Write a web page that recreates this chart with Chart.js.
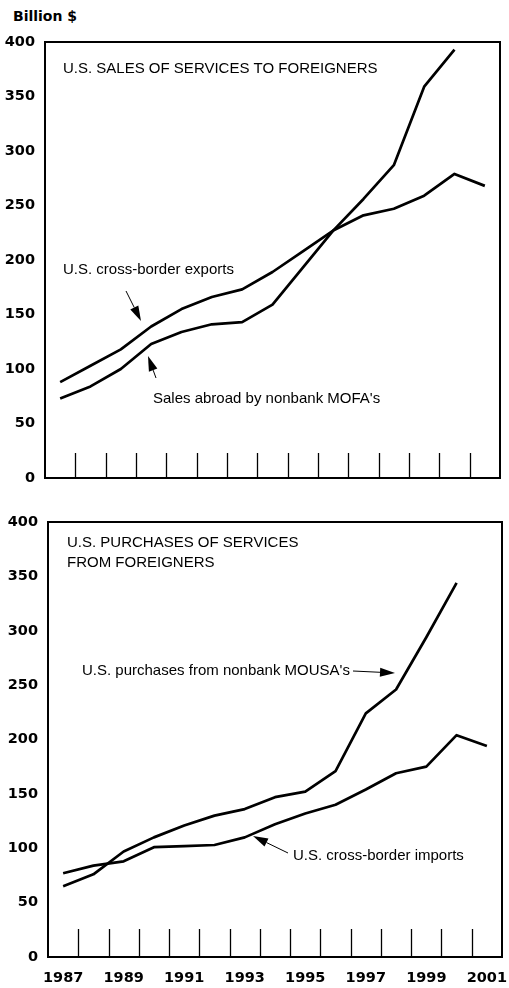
<!DOCTYPE html>
<html>
<head>
<meta charset="utf-8">
<script src="https://cdn.jsdelivr.net/npm/chart.js@4.4.1/dist/chart.umd.min.js"></script>
<style>
  html, body { margin: 0; padding: 0; background: #fff; }
  body { width: 509px; height: 988px; position: relative; overflow: hidden; }
  .box { position: absolute; left: 0; width: 509px; }
  #unit { position: absolute; left: 13px; top: 8px; font: bold 14px "DejaVu Sans", sans-serif; color: #000; }
</style>
</head>
<body>
<div id="unit">Billion $</div>
<div class="box" style="top:0;height:490px"><canvas id="c1" width="509" height="490"></canvas></div>
<div class="box" style="top:490px;height:498px"><canvas id="c2" width="509" height="498"></canvas></div>
<script>
// ---- data ----
const years = ['1987','1988','1989','1990','1991','1992','1993','1994','1995','1996','1997','1998','1999','2000','2001'];
const crossBorderExports = [88, 103, 118, 139, 155, 166, 173, 189, 208, 227, 241, 247, 259, 279, 268];
const mofaSales          = [73, 84, 100, 123, 134, 141, 143, 159, 193, 227, 256, 287, 359, 393];
const crossBorderImports = [77, 84, 88, 101, 102, 103, 110, 122, 132, 140, 154, 169, 175, 204, 194];
const mousaPurchases     = [65, 76, 97, 110, 121, 130, 136, 147, 152, 171, 224, 246, 294, 344];
const yTickValues = [0, 50, 100, 150, 200, 250, 300, 350, 400];

const tickFont = { family: '"DejaVu Sans", sans-serif', weight: 'bold', size: 14.5 };
const annFont = '15px "Liberation Sans", Arial, sans-serif';

// box + inner year ticks + annotations
const decor = {
  id: 'decor',
  afterDraw(chart, args, opts) {
    const ctx = chart.ctx, a = chart.chartArea, xs = chart.scales.x;
    ctx.save();
    ctx.strokeStyle = '#000';
    ctx.lineWidth = 1.3;
    for (let i = 1; i < years.length; i++) {
      const px = Math.round((xs.getPixelForValue(i - 1) + xs.getPixelForValue(i)) / 2) + 0.5;
      ctx.beginPath();
      ctx.moveTo(px, a.bottom);
      ctx.lineTo(px, a.bottom - opts.tickLen);
      ctx.stroke();
    }
    ctx.lineWidth = 2;
    ctx.strokeRect(a.left, a.top, a.right - a.left, a.bottom - a.top);
    ctx.fillStyle = '#000';
    ctx.font = annFont;
    ctx.textBaseline = 'alphabetic';
    ctx.textAlign = 'left';
    (opts.texts || []).forEach(t => ctx.fillText(t.text, t.x, t.y));
    (opts.arrows || []).forEach(ar => {
      const dx = ar.x2 - ar.x1, dy = ar.y2 - ar.y1, L = Math.hypot(dx, dy);
      const ux = dx / L, uy = dy / L, hl = 15, hw = 4.5;
      const bx = ar.x2 - ux * hl, by = ar.y2 - uy * hl;
      ctx.lineWidth = 1;
      ctx.beginPath(); ctx.moveTo(ar.x1, ar.y1); ctx.lineTo(bx, by); ctx.stroke();
      ctx.beginPath();
      ctx.moveTo(ar.x2, ar.y2);
      ctx.lineTo(bx - uy * hw, by + ux * hw);
      ctx.lineTo(bx + uy * hw, by - ux * hw);
      ctx.closePath(); ctx.fill();
    });
    ctx.restore();
  }
};

function lineDs(data) {
  return { data, borderColor: '#000', borderWidth: 2.7, pointRadius: 0, tension: 0, fill: false, borderJoinStyle: 'round' };
}

function makeChart(id, ds, cfg) {
  return new Chart(document.getElementById(id), {
    type: 'line',
    data: { labels: years, datasets: ds.map(lineDs) },
    options: {
      responsive: false, animation: false, devicePixelRatio: 1,
      layout: { padding: cfg.padding },
      plugins: { legend: { display: false }, tooltip: { enabled: false }, decor: cfg.decor },
      scales: {
        x: {
          offset: true,
          grid: { display: false, drawTicks: false },
          border: { display: false },
          ticks: {
            display: cfg.showYears, autoSkip: false, maxRotation: 0, minRotation: 0,
            padding: 13, color: '#000', font: tickFont,
            callback: (v, i) => (i % 2 === 0 ? years[i] : '')
          },
          afterFit: s => { s.height = cfg.xHeight; s.paddingLeft = 0; s.paddingRight = 0; }
        },
        y: {
          min: 0, max: 400,
          afterBuildTicks: s => { s.ticks = yTickValues.map(v => ({ value: v })); },
          grid: { display: false, drawTicks: false },
          border: { display: false },
          ticks: { padding: 10, color: '#000', font: tickFont },
          afterFit: s => { s.width = cfg.yWidth; s.paddingTop = 0; s.paddingBottom = 0; }
        }
      }
    },
    plugins: [decor]
  });
}

makeChart('c1', [crossBorderExports, mofaSales], {
  padding: { left: 0, right: 9, top: 42, bottom: 12 },
  xHeight: 0, yWidth: 45, showYears: false,
  decor: {
    tickLen: 25,
    texts: [
      { text: 'U.S. SALES OF SERVICES TO FOREIGNERS', x: 63, y: 73 },
      { text: 'U.S. cross-border exports', x: 63, y: 274 },
      { text: "Sales abroad by nonbank MOFA's", x: 153, y: 403 }
    ],
    arrows: [
      { x1: 126, y1: 291, x2: 141, y2: 321 },
      { x1: 156, y1: 378, x2: 148, y2: 356 }
    ]
  }
});

makeChart('c2', [crossBorderImports, mousaPurchases], {
  padding: { left: 0, right: 7, top: 32, bottom: 0 },
  xHeight: 31, yWidth: 48, showYears: true,
  decor: {
    tickLen: 28,
    texts: [
      { text: 'U.S. PURCHASES OF SERVICES', x: 67, y: 57 },
      { text: 'FROM FOREIGNERS', x: 67, y: 77 },
      { text: "U.S. purchases from nonbank MOUSA's", x: 82, y: 185 },
      { text: 'U.S. cross-border imports', x: 293, y: 370 }
    ],
    arrows: [
      { x1: 353, y1: 181, x2: 395, y2: 183 },
      { x1: 288, y1: 363, x2: 253, y2: 346 }
    ]
  }
});
</script>
</body>
</html>
